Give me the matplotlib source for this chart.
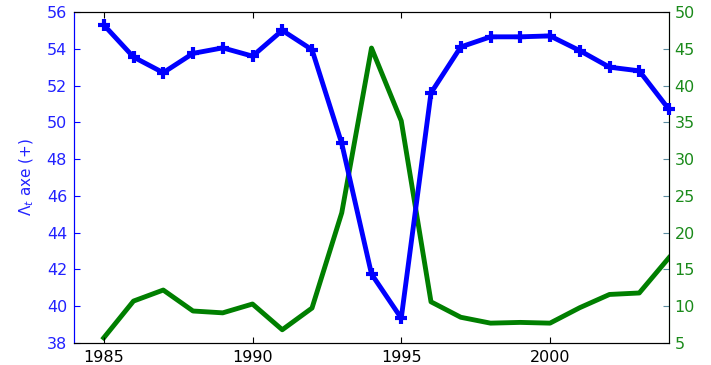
import matplotlib
matplotlib.use("Agg")
import matplotlib.pyplot as plt

years = list(range(1985, 2005))
lambda_axe = [55.3, 53.55, 52.7, 53.75, 54.05, 53.6, 55.0, 53.95, 48.85, 41.75,
              39.35, 51.6, 54.1, 54.65, 54.65, 54.7, 53.9, 53.0, 52.8, 50.7]
second = [5.7, 10.7, 12.2, 9.35, 9.1, 10.3, 6.8, 9.75, 22.7, 45.1,
          35.2, 10.6, 8.5, 7.7, 7.8, 7.7, 9.8, 11.6, 11.8, 16.6]

left_ticks = [38, 40, 42, 44, 46, 48, 50, 52, 54, 56]
right_ticks = [5, 10, 15, 20, 25, 30, 35, 40, 45, 50]
x_ticks = [1985, 1990, 1995, 2000]

plt.rcParams['font.family'] = ['DejaVu Sans']
blue = '#0000ff'
green = '#007f00'

fig = plt.figure(figsize=(7.11, 3.65), dpi=100)
ax = fig.add_axes([74/711, 1-343/365, (669-74)/711, (343-12)/365])
ax2 = ax.twinx()

ax2.plot(years, second, color=green, lw=3.5, zorder=1)
ax.plot(years, lambda_axe, color=blue, lw=3.5, marker='+', ms=9, mew=3, zorder=3,
        clip_on=False)

ax.set_zorder(ax2.get_zorder() + 1)
ax.patch.set_visible(False)

ax.set_xlim(1984, 2004)
ax.set_ylim(38, 56)
ax2.set_ylim(5, 50)
ax.set_xticks(x_ticks)
ax.set_yticks(left_ticks)
ax2.set_yticks(right_ticks)

ax.tick_params(axis='x', direction='in', top=True, length=4, labelsize=11.5, colors='black', pad=5)
ax.tick_params(axis='y', direction='in', length=4, labelsize=11.5, colors=blue, labelcolor='#2222ff', pad=5)
ax2.tick_params(axis='y', direction='in', length=4, labelsize=11.5, colors='#5a8ca0', labelcolor='#1a8a1a', pad=4)

ax.spines['left'].set_color(blue)
ax2.spines['right'].set_color(green)
ax2.spines['left'].set_color(blue)
for s in ['top', 'bottom']:
    ax.spines[s].set_color('black')
    ax2.spines[s].set_color('black')

ax.set_ylabel(r'$\Lambda_t$ axe (+)', color='#2222ff', fontsize=11, labelpad=8)

fig.savefig('out.png', dpi=100)
